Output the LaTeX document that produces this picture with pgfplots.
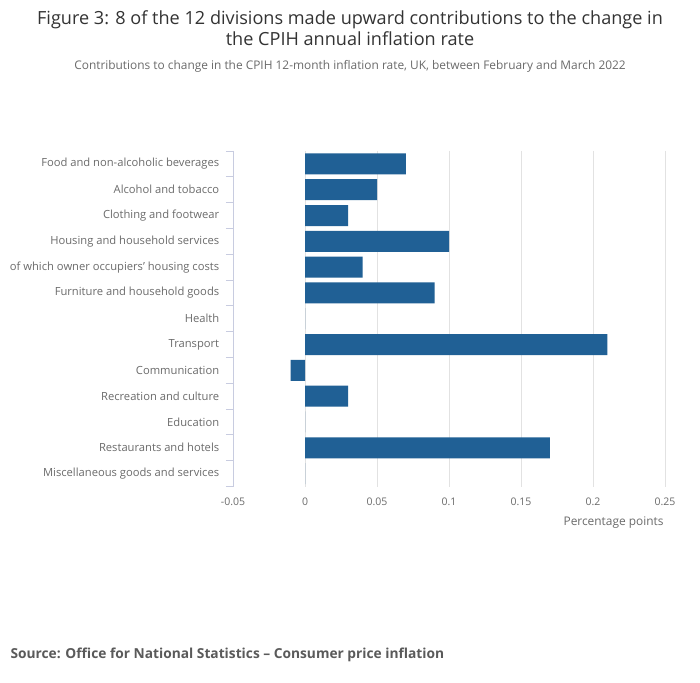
\documentclass[border=0pt]{standalone}
\usepackage{fontspec}
\setmainfont{Open Sans}
\usepackage{pgfplots}
\pgfplotsset{compat=1.18}
\definecolor{barblue}{HTML}{206095}
\definecolor{gridc}{HTML}{E2E2E2}
\definecolor{axc}{HTML}{C8CCE0}
\definecolor{labc}{HTML}{6B6B6B}
\definecolor{titc}{HTML}{333333}
\definecolor{srcc}{HTML}{5A5A5A}
\begin{document}
\begin{tikzpicture}[x=1pt,y=1pt]
\useasboundingbox (0,0) rectangle (700,682);
\fill[white] (0,0) rectangle (700,682);
\node[font=\fontsize{18.1}{21}\selectfont, text=titc, align=center] at (350,653.5) {Figure 3: 8 of the 12 divisions made upward contributions to the change in\\the CPIH annual inflation rate};
\node[font=\fontsize{11.9}{13}\selectfont, text=labc] at (350,616) {Contributions to change in the CPIH 12-month inflation rate, UK, between February and March 2022};
\node[font=\bfseries\fontsize{13.75}{15}\selectfont, text=srcc, anchor=west] at (7,27) {Source: Office for National Statistics – Consumer price inflation};
\node[font=\fontsize{11.9}{13}\selectfont, text=labc, anchor=east] at (667,159.5) {Percentage points};
\begin{axis}[
  at={(233pt,195.5pt)}, anchor=south west,
  scale only axis, width=432pt, height=335.5pt,
  xbar, bar width=21pt,
  xmin=-0.05, xmax=0.25,
  ymin=-0.5, ymax=12.5, y dir=reverse,
  axis x line*=bottom, axis y line*=left,
  x axis line style={draw=none},
  y axis line style={draw=axc, line width=0.8pt, -},
  xtick={-0.05,0,0.05,0.1,0.15,0.2,0.25},
  xticklabels={-0.05,0,0.05,0.1,0.15,0.2,0.25},
  scaled x ticks=false,
  xmajorgrids, grid style={gridc, line width=0.7pt},
  x tick style={draw=none},
  xticklabel style={font=\fontsize{10.5}{12}\selectfont, text=labc, yshift=-4pt},
  ytick={0,...,12},
  yticklabels={Food and non-alcoholic beverages,Alcohol and tobacco,Clothing and footwear,Housing and household services,of which owner occupiers’ housing costs,Furniture and household goods,Health,Transport,Communication,Recreation and culture,Education,Restaurants and hotels,Miscellaneous goods and services},
  y tick style={draw=none},
  minor ytick={-0.5,0.5,...,12.5},
  minor y tick style={draw=axc, line width=0.8pt},
  minor tick length=7pt,
  tick align=outside,
  yticklabel style={font=\fontsize{11.2}{12}\selectfont, text=labc, xshift=-6pt},
  clip=false,
]
\addplot[fill=barblue, draw=none] coordinates {
(0.07,0) (0.05,1) (0.03,2) (0.10,3) (0.04,4) (0.09,5) (0,6) (0.21,7) (-0.01,8) (0.03,9) (0,10) (0.17,11) (0,12)
};
\end{axis}
\end{tikzpicture}
\end{document}
